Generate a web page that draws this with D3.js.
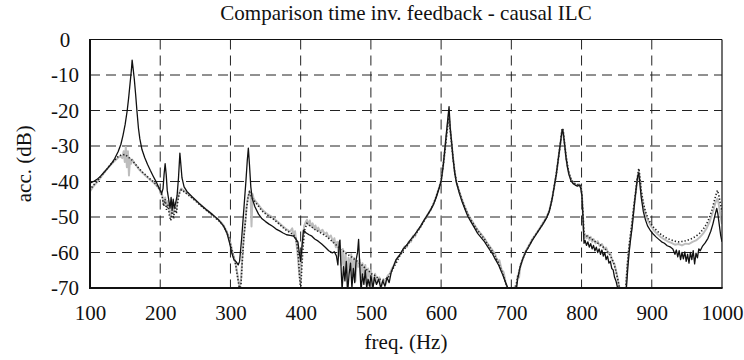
<!DOCTYPE html>
<html>
<head>
<meta charset="utf-8">
<script src="https://cdn.jsdelivr.net/npm/d3@7"></script>
<style>
  html, body { margin: 0; padding: 0; background: #fff; }
  svg { display: block; }
  svg text { font-family: "Liberation Serif", "Times New Roman", Times, serif; fill: #111; }
</style>
</head>
<body>
<svg id="chart" width="744" height="360"></svg>
<script>
const chartTitle = "Comparison time inv. feedback - causal ILC";
const xLabel = "freq. (Hz)";
const yLabel = "acc. (dB)";
const xTicks = [100, 200, 300, 400, 500, 600, 700, 800, 900, 1000];
const yTicks = [0, -10, -20, -30, -40, -50, -60, -70];

// time-invariant feedback (solid black)
const feedbackSeries = [[100,-40.5],[105,-40],[110,-39.4],[115,-38.5],[120,-37.4],[125,-36.3],[130,-35.1],[135,-33.6],[140,-31.6],[144,-29.5],[147,-27],[150,-24],[153,-20],[155,-16.5],[157,-12.5],[159,-8.5],[160,-5.8],[161,-7.5],[163,-11],[165,-15.5],[167,-20.5],[169,-25],[171,-28],[174,-31],[178,-33.3],[182,-35.2],[186,-36.9],[190,-38.5],[195,-40.4],[199,-42.1],[202,-43.4],[204,-42],[205.5,-38],[207,-35],[208.5,-38],[210,-42.5],[212,-45],[214,-47.5],[215.5,-44.5],[217,-48],[218.5,-45],[220,-47.5],[222,-46],[224,-44],[226,-39],[228,-32],[229.5,-35.5],[231,-39],[234,-41.5],[238,-42.8],[245,-44.2],[255,-46.1],[265,-47.8],[275,-49.4],[283,-50.8],[290,-52.5],[295,-54.5],[299,-57.5],[302,-60.2],[305,-62],[308,-62.6],[311,-63.5],[313,-62.5],[316,-56],[319,-48],[322,-40],[324,-34],[325.5,-30.6],[327,-35],[329,-41.5],[331,-44.8],[335,-47.2],[340,-49.2],[345,-50.5],[350,-51.3],[355,-52],[360,-52.6],[365,-53.4],[370,-53.9],[375,-54.5],[380,-55],[385,-55.2],[390,-55.4],[393,-56.2],[396,-57],[398,-60],[400,-62.5],[402,-58],[404,-53.7],[408,-54.5],[412,-55],[416,-55.4],[420,-56.2],[425,-56.8],[430,-57.6],[435,-58.5],[440,-59.5],[445,-60.1],[448,-59.8],[451,-61],[453,-63.5],[455,-57],[456,-56.5],[457,-62],[459,-70.5],[461,-64],[463,-68],[465,-62.5],[467,-71],[469,-66],[471,-63],[473,-70],[475,-64.5],[477,-68.5],[479,-62],[481,-60],[482.5,-56.3],[484,-63],[486,-71],[488,-66],[490,-69],[492,-65],[494,-70],[496,-67.5],[498,-69.5],[500,-66.5],[503,-70],[505,-67],[508,-69],[511,-67.5],[514,-70],[517,-68],[520,-69.5],[523,-67],[526,-68.5],[529,-65.5],[532,-64],[536,-62],[541,-60.7],[546,-59],[551,-57.9],[556,-56.5],[561,-55.3],[566,-54],[571,-52.5],[576,-50.8],[580,-49.6],[585,-48],[589,-46.5],[593,-44.5],[597,-42],[600,-40],[603,-35.5],[605,-31.5],[607,-27.5],[609,-23.5],[611.3,-18.9],[613,-25],[615,-29],[617,-33.5],[619.5,-37.7],[622,-40.5],[626,-43.3],[630,-45.8],[634,-47.8],[638,-49.8],[643,-51.5],[648,-53.2],[652,-54.6],[657,-55.8],[662,-57],[666,-58.3],[670,-59.5],[673,-60.3],[676,-61.5],[679,-62.5],[682,-63.6],[685,-65],[688,-66.4],[691,-68],[694,-69.5],[697,-71],[700,-72],[706,-72],[709,-67.5],[712,-64.5],[716,-62],[720,-60],[725,-58.3],[730,-56.5],[735,-55],[740,-53.5],[745,-52],[750,-50.3],[754,-48.5],[758,-45],[761,-41.5],[764,-38],[767,-33.5],[770,-29],[772,-26],[773,-25.3],[774,-26.5],[776,-29.8],[778,-33.5],[780,-36],[782,-38],[785,-39.8],[788,-40.6],[791,-41],[794,-41.3],[797,-41],[799,-42],[800.5,-44],[802,-50],[803.5,-57.4],[805,-56.6],[807,-58],[809,-57],[811,-58.5],[813,-57.5],[815,-59],[817,-58],[819,-59.5],[821,-58.5],[823,-60],[825,-59],[827,-60.5],[829,-59.3],[831,-61],[833,-60],[835,-62],[837,-61],[839,-63],[841,-62.5],[843,-64.5],[845,-64.9],[847,-67],[849,-68],[852,-70.5],[858,-72],[862,-72],[864,-69.6],[866,-64],[868,-59.5],[870,-56],[872,-53],[874,-49],[876,-45],[878,-41.5],[880,-38.5],[881.5,-37.6],[883,-40.5],[885,-44.5],[888,-48.5],[891,-50.8],[894,-52.5],[898,-53.8],[902,-54.8],[906,-55.6],[910,-56.3],[914,-57],[918,-57.4],[922,-58.1],[926,-58.4],[930,-59],[933,-60.5],[935,-59.3],[937,-61.2],[939,-59.5],[941,-62],[943,-60],[945,-61.8],[947,-59.8],[949,-62.5],[951,-60.5],[953,-63],[955,-60],[957,-62],[959,-59.5],[961,-63.2],[963,-60.2],[965,-61.5],[967,-59],[969,-59.5],[972,-58.3],[976,-57.3],[980,-56],[984,-54],[987,-52],[990,-49.5],[992.5,-47.6],[994,-49],[996,-52],[998,-55],[1000,-57]];

// causal ILC (dotted black)
const ilcSeries = [[100,-42.5],[103,-41.5],[106,-40.8],[110,-40],[115,-38.7],[120,-37.5],[125,-36.2],[130,-35],[135,-34],[140,-33],[145,-32.5],[150,-32.4],[155,-33.2],[160,-34],[165,-35.2],[170,-36.4],[175,-37.4],[180,-38.3],[185,-39.2],[190,-40],[195,-41],[200,-42.3],[203,-44.5],[205,-47],[207,-45],[209,-48],[211,-46.5],[213,-49.5],[215,-51],[217,-48],[219,-50.5],[221,-47],[223,-49],[225,-45.5],[227,-43.5],[230,-42.3],[235,-43],[240,-43.8],[245,-44.6],[250,-45.4],[255,-46.3],[260,-47.2],[265,-48],[270,-48.8],[275,-49.7],[280,-50.5],[285,-51.3],[290,-52.5],[294,-54],[298,-56],[301,-58.5],[304,-61],[307,-63],[309,-65.5],[311,-68],[313,-70.5],[315,-69],[317,-62],[319,-56],[321,-52],[323,-47.5],[325,-44.5],[327,-43],[328.5,-43.5],[330,-44.3],[333,-45.2],[336,-46],[340,-47],[345,-48.3],[350,-49.1],[355,-49.8],[360,-50.4],[365,-51.2],[370,-52.1],[375,-53],[380,-53.8],[385,-54.4],[390,-55],[393,-56],[395,-58],[397,-62],[398.5,-67],[400,-70.5],[402,-63],[404,-57],[406,-53.5],[409,-51.8],[413,-52.4],[417,-53],[421,-53.6],[425,-54],[429,-54.5],[433,-55],[437,-55.5],[441,-56.2],[445,-56.9],[449,-57.6],[453,-58.3],[457,-59.2],[461,-59.6],[465,-60.3],[469,-60.8],[473,-61.3],[477,-62],[481,-62.5],[485,-63.2],[489,-63.8],[493,-64.7],[497,-65.2],[501,-66],[505,-66.4],[509,-67],[513,-67.5],[517,-67.8],[521,-67.5],[525,-67],[529,-65.5],[533,-64],[537,-62.6],[541,-61],[546,-59.5],[551,-58.2],[556,-56.8],[561,-55.5],[566,-54.2],[571,-52.7],[576,-51],[580,-49.7],[585,-48],[589,-46.4],[593,-44.3],[597,-41.8],[600,-39.7],[603,-35.5],[605,-32],[607,-28.5],[609,-25],[611,-21.5],[613,-25.5],[615,-29.5],[617,-33.5],[619.5,-37.5],[622,-40.3],[626,-43],[630,-45.4],[634,-47.4],[638,-49.3],[643,-51],[648,-52.6],[652,-53.8],[657,-55],[662,-56.3],[666,-57.6],[670,-58.8],[674,-60],[678,-61.5],[682,-63],[685,-64.6],[688,-66.2],[691,-68],[694,-70],[697,-71.5],[701,-72],[705,-70.5],[707,-69],[709,-67],[712,-64.5],[716,-62],[720,-60],[725,-58.2],[730,-56.4],[735,-54.9],[740,-53.4],[745,-51.9],[750,-50.2],[754,-48.3],[758,-45],[761,-41.5],[764,-38],[767,-33.5],[770,-29],[772,-25.5],[773,-25],[774,-26],[776,-29.5],[778,-33],[780,-35.5],[782,-37.5],[785,-39.3],[788,-40.2],[791,-40.6],[794,-40.9],[797,-40.7],[799,-41.5],[800.5,-43.5],[802,-49],[803.5,-55],[806,-55.2],[810,-55.6],[815,-56.3],[820,-57],[825,-57.6],[830,-58.3],[835,-59.3],[840,-60.6],[845,-62.5],[848,-64.5],[851,-67],[854,-70],[857,-72],[861,-72],[863,-70],[865,-64],[867,-59.5],[869,-56],[871,-53],[873,-49.5],[875,-46],[877,-43],[879,-39.5],[881.5,-36.3],[883,-38.5],[885,-42.5],[888,-46],[891,-48.5],[895,-50.5],[899,-52],[903,-53],[908,-54],[913,-54.9],[918,-55.6],[923,-56.1],[928,-56.5],[933,-56.8],[938,-57],[943,-56.9],[948,-56.7],[953,-56.4],[958,-56],[963,-55.4],[968,-54.6],[973,-53.5],[978,-52],[982,-50.2],[986,-47.8],[989,-45.5],[991,-44],[993.5,-42.5],[995,-43.5],[997,-45.5],[999,-47.5],[1000,-48.5]];

// third measurement (light grey)
const greySeries = [[100,-42.8],[105,-41.3],[110,-40.2],[115,-38.9],[120,-37.6],[125,-36.3],[130,-35.2],[135,-34.2],[140,-33.3],[143,-32.8],[146,-33.4],[148,-31.5],[149.5,-34.5],[151,-30.3],[152.5,-36],[154,-31.5],[155.5,-38.3],[157,-33.5],[158.5,-35],[160,-33.8],[163,-34.8],[166,-35.5],[170,-36.6],[175,-37.6],[180,-38.5],[185,-39.4],[190,-40.2],[195,-41.2],[200,-42.5],[203,-44],[205,-46.5],[207,-44.5],[209,-47],[211,-45.5],[213,-48],[215,-50],[217,-46.5],[219,-49],[221,-46],[223,-47.5],[225,-44.5],[227,-43],[230,-42],[235,-42.8],[240,-43.6],[245,-44.4],[250,-45.2],[255,-46.1],[260,-47],[265,-47.8],[270,-48.6],[275,-49.5],[280,-50.3],[285,-51.1],[290,-52.3],[294,-53.8],[298,-55.8],[301,-58.2],[304,-60.7],[307,-62.8],[309,-65],[311,-67.5],[313,-69.5],[315,-68],[317,-61],[319,-55.5],[321,-51.5],[323,-47],[325,-44.5],[327,-42.8],[328.5,-43],[330,-52.7],[331.5,-43.5],[333,-44.8],[336,-45.6],[340,-46.6],[345,-47.9],[350,-48.8],[355,-49.5],[360,-50.1],[365,-51],[370,-51.8],[375,-52.7],[380,-53.5],[385,-54.1],[388,-53.2],[390,-55.2],[392,-54],[394,-57.5],[396,-61],[398,-66],[399.5,-68.5],[401,-62],[403,-56],[405,-52.5],[407,-51.5],[409,-50.8],[411,-52.2],[413,-51],[415,-52.6],[417,-51.8],[419,-53.2],[421,-52.4],[423,-53.8],[425,-53],[428,-54.2],[431,-53.6],[434,-54.8],[437,-54.4],[440,-55.8],[443,-55.2],[446,-57],[448,-56],[450,-58.5],[452,-57],[454,-61],[456,-58.2],[458,-63.5],[460,-59],[462,-66],[464,-60],[466,-69.5],[468,-61.5],[470,-64],[472,-60.5],[474,-66.5],[476,-61.5],[478,-68],[480,-62.5],[482,-64],[484,-62],[486,-67],[488,-63],[490,-66],[492,-63.5],[494,-68.5],[496,-64.5],[498,-67],[500,-65],[503,-69],[506,-66],[509,-68.5],[512,-67],[515,-69.5],[518,-67.5],[521,-69],[524,-66.5],[527,-66],[530,-64.5],[533,-63.5],[536,-62],[539,-61.2],[542,-60.5],[545,-59.6],[548,-58.3],[551,-58.5],[554,-56.9],[557,-57],[560,-55.3],[563,-55.5],[566,-53.8],[570,-53],[575,-51.2],[580,-49.6],[585,-48],[589,-46.4],[593,-44.2],[597,-41.8],[600,-39.8],[603,-35.5],[605,-32],[607,-28],[609,-24.5],[611,-21],[613,-25.3],[615,-29.3],[617,-33.3],[619.5,-37.4],[622,-40.2],[626,-42.9],[630,-45.2],[634,-47.2],[638,-49.1],[643,-50.8],[648,-52.4],[652,-53.6],[657,-54.8],[662,-56.1],[666,-57.4],[670,-58.5],[674,-59.6],[677,-60.5],[680,-62.4],[683,-62.2],[686,-64.8],[689,-65.5],[692,-68.5],[695,-70.5],[698,-72],[703,-72],[705,-69.5],[707,-70.2],[709,-66.5],[711,-67],[713,-63.5],[716,-62],[720,-59.8],[725,-58],[730,-56.2],[735,-54.8],[740,-53.3],[745,-51.7],[750,-50.1],[754,-48.2],[758,-45],[761,-41.5],[764,-38],[767,-33.5],[770,-29.2],[772,-26],[773,-25.4],[774,-26.3],[776,-29.7],[778,-33.3],[780,-35.8],[782,-37.8],[785,-39.5],[788,-40.4],[791,-40.8],[794,-41.1],[797,-40.8],[799,-41.7],[800.5,-43.7],[802,-49.5],[803.5,-56],[805,-54.8],[807,-56],[809,-55.2],[811,-56.5],[813,-55.6],[815,-57],[817,-56.2],[820,-57.4],[823,-56.8],[826,-58.2],[829,-57.6],[832,-59],[835,-58.6],[838,-60.3],[841,-60.2],[844,-62.5],[847,-63.3],[850,-66],[853,-69],[856,-72],[861,-72],[863,-70],[865,-64.5],[867,-60],[869,-56.5],[871,-53.5],[873,-50],[875,-46.5],[877,-43.5],[879,-40.2],[881.5,-37],[883,-39.3],[885,-43.2],[888,-46.8],[891,-49.2],[895,-51.2],[899,-52.6],[903,-53.8],[908,-54.8],[913,-55.7],[918,-56.3],[923,-56.9],[928,-57.3],[933,-57.8],[938,-57.6],[943,-58],[948,-57.5],[953,-57.6],[958,-57],[963,-56.6],[968,-55.8],[973,-54.7],[978,-53.2],[982,-51.5],[986,-49.2],[989,-47.2],[991,-45.8],[993.5,-44.8],[995,-46],[997,-48.5],[999,-51],[1000,-52]];

const FONT = "'Liberation Serif', 'Times New Roman', Times, serif";
const FS = 21;

const svg = d3.select("#chart");
const margin = { left: 90, right: 22, top: 39.5, bottom: 72 };
const W = 744, H = 360;
const x = d3.scaleLinear().domain([100, 1000]).range([margin.left, W - margin.right]);
const y = d3.scaleLinear().domain([-70, 0]).range([H - margin.bottom, margin.top]);

svg.append("defs").append("clipPath").attr("id", "plotclip")
  .append("rect").attr("x", x(100)).attr("y", y(0)).attr("width", x(1000) - x(100)).attr("height", y(-70) - y(0));

// grid
const grid = svg.append("g");
grid.selectAll("line.v").data(xTicks.slice(1, -1)).join("line")
  .attr("x1", d => x(d)).attr("x2", d => x(d)).attr("y1", y(0)).attr("y2", y(-70))
  .attr("stroke", "#222").attr("stroke-width", 1).attr("stroke-dasharray", "10,6");
grid.selectAll("line.h").data(yTicks.slice(1, -1)).join("line")
  .attr("x1", x(100)).attr("x2", x(1000)).attr("y1", d => y(d)).attr("y2", d => y(d))
  .attr("stroke", "#222").attr("stroke-width", 1).attr("stroke-dasharray", "10,6");

const line = d3.line().x(d => x(d[0])).y(d => y(d[1]));
const plot = svg.append("g").attr("clip-path", "url(#plotclip)");
plot.append("path").datum(greySeries).attr("d", line)
  .attr("fill", "none").attr("stroke", "#bdbdbd").attr("stroke-width", 2).attr("stroke-linejoin", "round");
plot.append("path").datum(feedbackSeries).attr("d", line)
  .attr("fill", "none").attr("stroke", "#111").attr("stroke-width", 1.3).attr("stroke-linejoin", "round");
plot.append("path").datum(ilcSeries).attr("d", line)
  .attr("fill", "none").attr("stroke", "#222").attr("stroke-width", 1.6).attr("stroke-dasharray", "1.3,2");

// frame
const frame = svg.append("g");
frame.append("line").attr("x1", x(100)).attr("x2", x(1000)).attr("y1", y(0)).attr("y2", y(0)).attr("stroke", "#111").attr("stroke-width", 1.2);
frame.append("line").attr("x1", x(1000)).attr("x2", x(1000)).attr("y1", y(0)).attr("y2", y(-70)).attr("stroke", "#111").attr("stroke-width", 1.2);
frame.append("line").attr("x1", x(100) - 1).attr("x2", x(1000) + 0.6).attr("y1", y(-70)).attr("y2", y(-70)).attr("stroke", "#111").attr("stroke-width", 2.2);
frame.append("line").attr("x1", x(100)).attr("x2", x(100)).attr("y1", y(0) - 0.6).attr("y2", y(-70)).attr("stroke", "#111").attr("stroke-width", 2);

// axes (tick labels only)
const xAxis = d3.axisBottom(x).tickValues(xTicks).tickSize(0).tickPadding(17).tickFormat(d3.format("d"));
const gx = svg.append("g").attr("transform", `translate(0,${y(-70)})`).call(xAxis);
gx.select(".domain").remove();
gx.selectAll("text").style("font-family", FONT).style("font-size", FS + "px").style("fill", "#111");

const yAxis = d3.axisLeft(y).tickValues(yTicks).tickSize(0).tickPadding(0).tickFormat(d => d3.format("d")(d).replace("\u2212", "-"));
const gy = svg.append("g").attr("transform", `translate(65,0)`).call(yAxis);
gy.select(".domain").remove();
gy.selectAll("text").attr("text-anchor", "middle").style("font-family", FONT).style("font-size", FS + "px").style("fill", "#111");

const labels = svg.append("g").style("font-family", FONT).style("font-size", FS + "px");
labels.append("text").attr("x", (x(100) + x(1000)) / 2).attr("y", 20).attr("text-anchor", "middle")
  .style("font-family", FONT).text(chartTitle);
labels.append("text").attr("x", (x(100) + x(1000)) / 2).attr("y", 349).attr("text-anchor", "middle")
  .style("font-family", FONT).text(xLabel);
labels.append("text").attr("transform", `translate(31,${(y(0) + y(-70)) / 2}) rotate(-90)`).attr("text-anchor", "middle")
  .style("font-family", FONT).text(yLabel);
</script>
</body>
</html>
